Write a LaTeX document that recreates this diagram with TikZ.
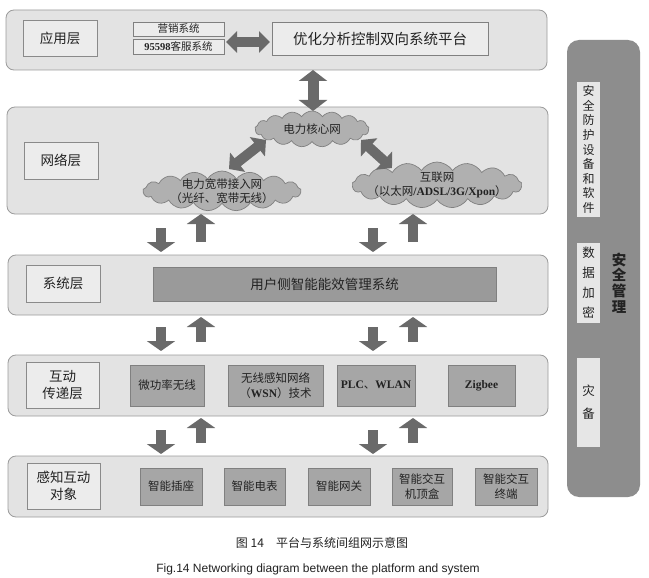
\documentclass[tikz,border=0pt]{standalone}
\usepackage{fontspec}
\setmainfont{Liberation Serif}
\newfontfamily\cjk{Noto Sans CJK SC}
\newfontfamily\arialf{Liberation Sans}
\usetikzlibrary{shapes.symbols,arrows.meta}
\definecolor{layerfill}{HTML}{E3E3E3}
\definecolor{layerdraw}{HTML}{9C9C9C}
\definecolor{labelfill}{HTML}{ECECEC}
\definecolor{labeldraw}{HTML}{8A8A8A}
\definecolor{darkfill}{HTML}{A6A6A6}
\definecolor{darkdraw}{HTML}{808080}
\definecolor{sysfill}{HTML}{9A9A9A}
\definecolor{cloudfill}{HTML}{B0B0B0}
\definecolor{arrowgray}{HTML}{6A6A6A}
\definecolor{secfill}{HTML}{8D8D8D}
\definecolor{secinner}{HTML}{E6E6E6}
\definecolor{txt}{HTML}{222222}
\tikzset{
  layer/.style={draw=layerdraw, fill=layerfill, line width=0.8pt, rounded corners=8pt, inner sep=0pt},
  labelbox/.style={draw=labeldraw, fill=labelfill, line width=0.8pt, inner sep=0pt, text=txt, align=center,
    font=\cjk\fontsize{13.5}{17}\selectfont},
  smallbox/.style={draw=darkdraw, fill=labelfill, line width=0.7pt, inner sep=0pt, text=txt, align=center,
    font=\cjk\fontsize{10.5}{12}\selectfont},
  darkbox/.style={draw=darkdraw, fill=darkfill, line width=0.7pt, inner sep=0pt, text=txt, align=center,
    font=\cjk\fontsize{11.5}{15}\selectfont},
  cloudy/.style={cloud, cloud puffs=17, cloud puff arc=115, cloud ignores aspect, draw=darkdraw, fill=cloudfill,
    line width=0.7pt, inner sep=0pt},
  cloudtext/.style={text=txt, align=center, font=\cjk\fontsize{11.5}{14.5}\selectfont},
  uparr/.style={draw=arrowgray, line width=10pt, -{Triangle[width=28pt,length=10pt]}},
  dblarr/.style={draw=arrowgray, line width=11pt, {Triangle[width=28pt,length=11pt]}-{Triangle[width=28pt,length=11pt]}},
  secbox/.style={draw=none, fill=secinner, inner sep=0pt, text=txt, align=center},
}
\begin{document}
\begin{tikzpicture}[x=1pt,y=-1pt]
\useasboundingbox[fill=white] (0,0) rectangle (649,578);

% layers
\node[layer, minimum width=541pt, minimum height=60pt] (L1) at (276.5,40) {};
\node[layer, minimum width=541pt, minimum height=107pt] (L2) at (277.5,160.5) {};
\node[layer, minimum width=540pt, minimum height=60pt] (L3) at (278,285) {};
\node[layer, minimum width=540pt, minimum height=61pt] (L4) at (278,385.5) {};
\node[layer, minimum width=540pt, minimum height=61pt] (L5) at (278,486.5) {};

% layer labels
\node[labelbox, minimum width=74pt, minimum height=36pt] (A) at (60,38) {应用层};
\node[labelbox, minimum width=74pt, minimum height=37pt] (N) at (61,160.5) {网络层};
\node[labelbox, minimum width=74pt, minimum height=37pt] (S) at (63,283.5) {系统层};
\node[labelbox, minimum width=73pt, minimum height=46pt] (I) at (62.5,385) {互动\\传递层};
\node[labelbox, minimum width=73pt, minimum height=46pt] (P) at (63.5,486) {感知互动\\对象};

% application layer
\node[smallbox, minimum width=91pt, minimum height=14pt] (M1) at (178.5,29) {营销系统};
\node[smallbox, minimum width=91pt, minimum height=15pt] (M2) at (178.5,46.5) {{\rmfamily\bfseries 95598}客服系统};
\node[smallbox, minimum width=216pt, minimum height=33pt, font=\cjk\fontsize{14.5}{16}\selectfont] (OP) at (380,38.5) {优化分析控制双向系统平台};
\coordinate (h1) at (226,42);
\coordinate (h2) at (270,42);
\draw[dblarr, line width=10pt, {Triangle[width=21pt,length=11pt]}-{Triangle[width=21pt,length=11pt]}] (h1) -- (h2);
\coordinate (v1) at (313,70);
\coordinate (v2) at (313,111);
\draw[dblarr, line width=11pt] (v1) -- (v2);

% network layer clouds
\node[cloudy, minimum width=114pt, minimum height=36pt] (K) at (312,129) {};
\node[cloudtext] (Kt) at (K) {电力核心网};
\node[cloudy, minimum width=158pt, minimum height=40pt] (B) at (222,191) {};
\node[cloudtext] (Bt) at (B) {电力宽带接入网\\（光纤、宽带无线）};
\node[cloudy, minimum width=170pt, minimum height=46pt] (W) at (437,185) {};
\node[cloudtext] (Wt) at (W) {互联网\\（以太网{\rmfamily\bfseries /ADSL/3G/Xpon}）};
\coordinate (d1) at (229,169);
\coordinate (d2) at (266,140);
\draw[dblarr, line width=10pt, {Triangle[width=24pt,length=11pt]}-{Triangle[width=24pt,length=11pt]}] (d1) -- (d2);
\coordinate (d3) at (361,140);
\coordinate (d4) at (392,168);
\draw[dblarr, line width=10pt, {Triangle[width=24pt,length=11pt]}-{Triangle[width=24pt,length=11pt]}] (d3) -- (d4);

% system layer
\node[darkbox, fill=sysfill, minimum width=343pt, minimum height=34pt, font=\cjk\fontsize{13.5}{16}\selectfont] (U) at (324.5,284) {用户侧智能能效管理系统};

% interaction layer
\node[darkbox, minimum width=74pt, minimum height=41pt] (T1) at (167,385.5) {微功率无线};
\node[darkbox, minimum width=95pt, minimum height=41pt] (T2) at (275.5,385.5) {无线感知网络\\（{\rmfamily\bfseries WSN}）技术};
\node[darkbox, minimum width=78pt, minimum height=41pt] (T3) at (376,385.5) {{\rmfamily\bfseries PLC}、{\rmfamily\bfseries WLAN}};
\node[darkbox, minimum width=67pt, minimum height=41pt] (T4) at (481.5,385.5) {{\rmfamily\bfseries Zigbee}};

% perception layer
\node[darkbox, minimum width=62pt, minimum height=37pt] (O1) at (171,486.5) {智能插座};
\node[darkbox, minimum width=61pt, minimum height=37pt] (O2) at (254.5,486.5) {智能电表};
\node[darkbox, minimum width=62pt, minimum height=37pt] (O3) at (339,486.5) {智能网关};
\node[darkbox, minimum width=60pt, minimum height=37pt] (O4) at (422,486.5) {智能交互\\机顶盒};
\node[darkbox, minimum width=62pt, minimum height=37pt] (O5) at (506,486.5) {智能交互\\终端};

% arrows between layers
\foreach \yt/\yb/\n in {228/252/a, 327/351/b, 430/454/c}{
  \coordinate (dl\n1) at (161,\yt); \coordinate (dl\n2) at (161,\yb);
  \coordinate (dr\n1) at (373,\yt); \coordinate (dr\n2) at (373,\yb);
}
\foreach \yb/\yt/\n in {242/214/a, 342/317/b, 443/418/c}{
  \coordinate (ul\n1) at (201,\yb); \coordinate (ul\n2) at (201,\yt);
  \coordinate (ur\n1) at (413,\yb); \coordinate (ur\n2) at (413,\yt);
}
\foreach \n in {a,b,c}{
  \draw[uparr] (dl\n1) -- (dl\n2);
  \draw[uparr] (dr\n1) -- (dr\n2);
  \draw[uparr] (ul\n1) -- (ul\n2);
  \draw[uparr] (ur\n1) -- (ur\n2);
}

% security column
\node[fill=secfill, draw=none, rounded corners=12pt, minimum width=73pt, minimum height=457pt, inner sep=0pt] (SEC) at (603.5,268.5) {};
\node[secbox, minimum width=23pt, minimum height=135pt, font=\cjk\fontsize{12}{14.6}\selectfont] (S1) at (588.5,149.5) {安\\全\\防\\护\\设\\备\\和\\软\\件};
\node[secbox, minimum width=23pt, minimum height=80pt, font=\cjk\fontsize{12.5}{20}\selectfont] (S2) at (588.5,283) {数\\据\\加\\密};
\node[secbox, minimum width=23pt, minimum height=89pt, font=\cjk\fontsize{12.5}{23}\selectfont] (S3) at (588.5,402.5) {灾\\备};
\node[text=txt, align=center, inner sep=0pt, font=\cjk\bfseries\fontsize{14.5}{15.8}\selectfont] (SM) at (619,283) {安\\全\\管\\理};

% captions
\node[text=txt, inner sep=0pt, font=\cjk\fontsize{12}{14}\selectfont] (C1) at (322,543) {图 14\quad 平台与系统间组网示意图};
\node[text=txt, inner sep=0pt, font=\arialf\fontsize{12}{14}\selectfont] (C2) at (318,569) {Fig.14 Networking diagram between the platform and system};
\end{tikzpicture}
\end{document}
